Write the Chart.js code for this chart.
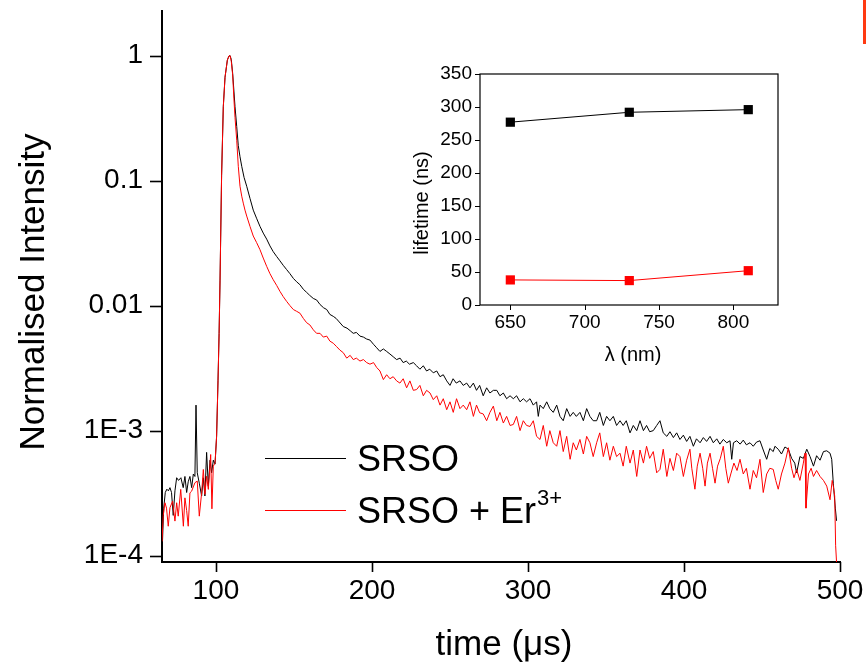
<!DOCTYPE html>
<html><head><meta charset="utf-8">
<script src="https://cdn.jsdelivr.net/npm/chart.js@4.4.1/dist/chart.umd.min.js"></script>
<style>
html,body{margin:0;padding:0;background:#fff;}
#wrap{position:relative;width:866px;height:665px;overflow:hidden;background:#fff;}
#main{position:absolute;left:0;top:0;}
#inset{position:absolute;left:390px;top:60px;}
</style></head><body>
<div id="wrap"><canvas id="main" width="866" height="665"></canvas><canvas id="inset" width="400" height="320"></canvas></div>
<script>
// ---------- data ----------
// [time in µs, normalised intensity]
const srsoDecay = [
[65.5,1.1e-4],[66.5,2.4e-4],[67.5,3.2e-4],[68.5,3.4e-4],[69.5,3.3e-4],[70.5,3.5e-4],[71.5,3.2e-4],[72.6,2.1e-4],[73.7,3.3e-4],[74.8,4.2e-4],
[76,4.0e-4],[77.5,4.2e-4],[79,3.5e-4],[80.1,4.3e-4],[81.2,3.2e-4],[82.2,3.9e-4],[83.3,4.3e-4],[84.4,3.5e-4],[85.5,4.5e-4],[86.5,4.3e-4],
[87.2,1.6e-3],[88,4.6e-4],[89.3,3.8e-4],[90.8,3.0e-4],[91.9,4.2e-4],[92.9,3.0e-4],[94,6.7e-4],[95.1,3.6e-4],[96.2,5.8e-4],[97.2,4.6e-4],
[98.3,5.8e-4],[99.4,5.4e-4],[100.4,9e-4],[101.3,2.5e-3],[102,6e-3],[102.6,0.016],[103.6,0.11],[104.7,0.39],[105.8,0.67],[107.3,0.92],
[108.3,0.99],[109,1.0],[109.8,0.93],[110.7,0.72],[111.5,0.52],[112.2,0.39],[113.3,0.27],[114.3,0.19],[115.4,0.155],[116.5,0.13],
[118,0.106],[119.7,0.09],[121.8,0.072],[123.9,0.058],[126,0.05],[128.2,0.043],[130.3,0.038],[132.5,0.034],[134.6,0.030],[136.7,0.027],
[138.9,0.0247],[141,0.0228],[143.1,0.021],[145.3,0.0194],[147.4,0.018],[149.6,0.0165],[151.7,0.0155],[153.8,0.0147],[156,0.0135],[158,0.0128],
[160,0.0121],[162.4,0.0114],[164.5,0.0111],[166.7,0.0102],[169,0.0096],[171,0.0093],[173,0.0085],[175.2,0.0082],[177,0.0079],[179,0.0074],
[181.6,0.0068],[184,0.0066],[186,0.0063],[188,0.0060],[190,0.0061],[192.3,0.0057],[194.5,0.0056],[196.6,0.0054],[198.7,0.0053],[201,0.0049],
[203,0.0046],[205.1,0.0043],[207.3,0.0045],[209.4,0.0043],[211.5,0.0041],[213.6,0.0039],[215.8,0.0037],[218,0.0038],[220,0.0035],[222,0.0036],
[224,0.0034],[226.5,0.0035],[228.6,0.0033],[230.7,0.0031],[232.9,0.0033],[235,0.0030],[237,0.0031],[239.3,0.0029],[241.5,0.0030],[243.6,0.0027],
[245.7,0.0028],[247.9,0.0025],[250,0.0023],[252,0.0026],[254,0.0024],[256.4,0.0025],[258.5,0.0023],[260.7,0.0024],[262.8,0.0022],[265,0.0024],
[267,0.0021],[269,0.0023],[271.3,0.0019],[273.5,0.0022],[275.6,0.0020],[277.8,0.0021],[280,0.0021],[282,0.0019],[284.2,0.0020],[286.3,0.0018],
[288.5,0.0019],[290.6,0.0018],[292.7,0.0019],[294.9,0.0017],[297,0.0018],[299.1,0.0017],[301.3,0.0018],[303.4,0.0016],[305.5,0.0017],[306.6,0.0013],
[307.7,0.0016],[309.8,0.0015],[312,0.0017],[314,0.0015],[316.2,0.0014],[318.4,0.0016],[320.5,0.0013],[322.6,0.0012],[324.8,0.0015],[327,0.0013],
[329,0.0014],[331,0.0013],[333.3,0.0014],[335.5,0.0012],[337.6,0.0015],[339.7,0.0013],[341.8,0.0012],[344,0.0012],[346,0.0014],[348.3,0.0011],
[350.4,0.0013],[352.5,0.0012],[354.7,0.0013],[356.8,0.0011],[359,0.0012],[361,0.0011],[363,0.0012],[365.4,0.00096],[367.5,0.0011],[369.7,0.0010],
[371.8,0.0012],[374,0.0010],[376,0.0011],[378,0.00098],[380.3,0.0010],[382.5,0.0011],[384.6,0.0012],[386.7,0.00096],[389,0.00090],[391,0.00098],
[393.2,0.00088],[395.3,0.00096],[397.4,0.00085],[399.6,0.00092],[401.7,0.00082],[403.8,0.00090],[406,0.00075],[408,0.00086],[410.3,0.00080],[412.4,0.00088],
[414.5,0.00082],[416.7,0.00090],[418.8,0.00080],[421,0.00086],[423,0.00078],[425.2,0.00085],[427.4,0.00080],[429.5,0.00083],[430.6,0.00059],[431.7,0.00080],
[433.8,0.00083],[436,0.00078],[438,0.00084],[440,0.00077],[442.3,0.00080],[444.4,0.00075],[446.5,0.00081],[448.7,0.00083],[450.8,0.00070],[453,0.00059],
[455,0.00072],[457.2,0.00068],[458.3,0.00075],[460.4,0.00071],[462.5,0.00065],[464.7,0.00074],[466.9,0.00071],[469,0.00060],[471,0.00055],[472.2,0.00046],
[474.3,0.00062],[476.5,0.00060],[478.7,0.00071],[480.8,0.00062],[483,0.00052],[485,0.00063],[487.2,0.00058],[489.4,0.00068],[491.5,0.00069],[493.6,0.00066],
[494.7,0.00059],[495.7,0.00038],[497,0.00024],[497.8,0.00019]
];
const srsoErDecay = [
[65.4,1.3e-4],[66.2,2.1e-4],[67.3,2.65e-4],[68.3,2.4e-4],[69.4,1.72e-4],[70.5,2.42e-4],[72.2,2.73e-4],[73.7,1.89e-4],[74.8,2.65e-4],[75.8,2.07e-4],
[77.4,3.39e-4],[79.1,1.72e-4],[80.1,2.9e-4],[81.2,2.3e-4],[82.2,1.72e-4],[83.3,3.18e-4],[84.4,3.28e-4],[86.5,3.83e-4],[88,3.95e-4],[89.3,2.07e-4],
[90.8,3.18e-4],[91.9,4.89e-4],[92.9,3.09e-4],[94,4.32e-4],[95.1,3.39e-4],[96.6,6.44e-4],[97.4,2.37e-4],[98.3,5.2e-4],[99.4,5.5e-4],[100.4,9e-4],
[101.3,2.5e-3],[102,6e-3],[102.6,0.016],[103.6,0.11],[104.7,0.39],[105.8,0.67],[107.3,0.92],[108.3,0.99],[109,1.0],[109.8,0.9],
[110.7,0.7],[111.5,0.45],[112.2,0.32],[113.3,0.21],[114.3,0.13],[115.4,0.09],[116.5,0.075],[117.5,0.066],[118.6,0.058],[119.7,0.052],
[121.8,0.043],[123.9,0.036],[126,0.032],[128.2,0.028],[130.3,0.024],[132.5,0.0206],[134.6,0.018],[136.7,0.0161],[138.9,0.0145],[141,0.013],
[143.1,0.0118],[145.3,0.0108],[147.4,0.0100],[149.6,0.0093],[151.7,0.0090],[153.8,0.0087],[156,0.0079],[158.1,0.0073],[160.2,0.0070],[162.4,0.0064],
[164.5,0.0060],[166.7,0.0060],[168.8,0.0056],[171,0.0057],[173,0.0052],[175.2,0.0050],[177.3,0.0047],[179.5,0.0044],[181.6,0.0042],[183.8,0.0038],
[186,0.0040],[188,0.0037],[190,0.0038],[192.3,0.0036],[194.5,0.0037],[196.6,0.0035],[198.7,0.0034],[201,0.0035],[203,0.0032],[205.1,0.0030],
[207.3,0.00256],[209.4,0.0028],[211.5,0.0026],[213.6,0.0027],[215.8,0.0025],[217.9,0.0024],[220,0.0026],[222.2,0.0022],[224.3,0.0025],[226.5,0.0021],
[228.6,0.00213],[230.7,0.0023],[232.9,0.0019],[235,0.0021],[237.2,0.0020],[239.3,0.00177],[241.5,0.0019],[243.6,0.0016],[245.7,0.0018],[247.9,0.00147],
[250,0.0017],[252.1,0.0014],[254.2,0.0018],[256.4,0.0015],[258.5,0.0016],[260.7,0.00147],[262.8,0.0017],[265,0.0013],[267,0.0016],[269,0.00139],
[271.3,0.00136],[273.5,0.0012],[275.6,0.0014],[277.8,0.00157],[280,0.0012],[282,0.0014],[284.2,0.00115],[286.3,0.0013],[288.5,0.0011],[290.6,0.00112],
[292.7,0.0013],[294.9,0.0010],[297,0.0012],[299.1,0.0011],[301.3,0.00108],[303.4,0.0012],[305.5,0.00090],[307.7,0.00085],[309.8,0.0011],[312,0.00075],
[314,0.0010],[316.2,0.0008],[318.4,0.00075],[320.5,0.0010],[322.6,0.00068],[324.8,0.0009],[327,0.00059],[329,0.0008],[331,0.00070],[333.3,0.00085],
[335.5,0.00065],[337.6,0.0009],[339.7,0.0008],[341.8,0.00062],[344,0.0008],[346,0.00096],[348.3,0.00062],[350.4,0.0008],[352.5,0.00058],[354.7,0.00075],
[356.8,0.00062],[359,0.00066],[361,0.00052],[363,0.00075],[365.4,0.00055],[367.5,0.0007],[369.7,0.00043],[371.8,0.0007],[374,0.00055],[376,0.00075],
[378,0.0006],[380.3,0.00068],[382.5,0.00046],[384.6,0.00049],[386.7,0.00071],[389,0.00043],[391,0.00060],[393.2,0.00048],[395.3,0.00066],[397.4,0.00062],
[399.6,0.00043],[401.7,0.00058],[403.8,0.00071],[405,0.0005],[407,0.00034],[408.5,0.00052],[410.3,0.00066],[412,0.00050],[413.5,0.00036],[415,0.00055],
[416.7,0.00066],[418.3,0.0005],[419.9,0.00038],[421.5,0.00052],[423.3,0.00060],[425.2,0.00075],[426.8,0.00050],[428.4,0.00038],[430,0.00045],[432,0.00055],
[434,0.00048],[435.9,0.00059],[438,0.00045],[440,0.0005],[442.3,0.00034],[444.4,0.00048],[446.5,0.00042],[448.7,0.00059],[450.8,0.00032],[453,0.00045],
[455,0.0005],[457.2,0.00049],[458.8,0.00040],[460.4,0.00034],[462.5,0.00045],[464.7,0.00055],[466.9,0.00073],[469,0.00050],[470.5,0.00042],[472.2,0.00049],
[474.3,0.00040],[476.5,0.00055],[477.6,0.00066],[478.2,0.00024],[479.8,0.00045],[481.5,0.00050],[483,0.00043],[485,0.00048],[487.2,0.00043],[489.4,0.00040],
[491.5,0.00036],[493.6,0.00028],[495,0.00040],[495.7,0.00036],[496.6,0.00030],[497.2,0.00012],[498,0.00008]
];
const seriesNames = ['SRSO', 'SRSO + Er'];
const seriesSuperscript = '3+';
const yDecadeValues = [1, 0.1, 0.01, 1e-3, 1e-4];
const yDecadeLabels = ['1', '0.1', '0.01', '1E-3', '1E-4'];
const xLabelValues = [100, 200, 300, 400, 500];
const mainYTitle = 'Normalised Intensity';
const mainXTitle = 'time (\u03bcs)';

// inset
const insetWavelengths = [650, 730, 810];
const lifetimeSRSO = [277, 292, 296];
const lifetimeSRSOEr = [38, 37, 52];
const insetXTickValues = [650, 675, 700, 725, 750, 775, 800, 825];
const insetXLabels = [650, 700, 750, 800];
const insetYTickValues = [0, 25, 50, 75, 100, 125, 150, 175, 200, 225, 250, 275, 300, 325, 350];
const insetYLabels = [0, 50, 100, 150, 200, 250, 300, 350];
const insetYTitle = 'lifetime (ns)';
const insetXTitle = '\u03bb (nm)';

// ---------- rendering ----------
const FONT = "'Liberation Sans', Arial, Helvetica, sans-serif";
const toXY = arr => arr.map(p => ({x: p[0], y: p[1]}));

function yLabel(v) {
  for (let i = 0; i < yDecadeValues.length; i++) {
    if (Math.abs(Math.log10(v) - Math.log10(yDecadeValues[i])) < 1e-6) return yDecadeLabels[i];
  }
  return null;
}
function isDecade(v) { return Math.abs(Math.log10(v) - Math.round(Math.log10(v))) < 1e-6; }

const mainDeco = {
  id: 'mainDeco',
  afterDraw(chart) {
    const ctx = chart.ctx, xs = chart.scales.x, ys = chart.scales.y, ca = chart.chartArea;
    ctx.save();
    ctx.strokeStyle = '#000'; ctx.lineWidth = 1.6;
    ys.ticks.forEach(t => {
      if (t.value <= ys.min * 1.0001) return;
      const y = Math.round(ys.getPixelForValue(t.value)) + 0.5;
      const len = isDecade(t.value) ? 12 : 5;
      ctx.beginPath(); ctx.moveTo(ca.left - len, y); ctx.lineTo(ca.left, y); ctx.stroke();
    });
    xs.ticks.forEach(t => {
      const x = Math.round(xs.getPixelForValue(t.value)) + 0.5;
      const len = xLabelValues.includes(t.value) ? 10 : 6;
      ctx.beginPath(); ctx.moveTo(x, ca.bottom); ctx.lineTo(x, ca.bottom + len); ctx.stroke();
    });
    ctx.fillStyle = '#000';
    ctx.font = '35px ' + FONT;
    ctx.textAlign = 'center'; ctx.textBaseline = 'alphabetic';
    ctx.fillText(mainXTitle, 504, 655);
    ctx.save();
    ctx.translate(44, 292); ctx.rotate(-Math.PI / 2);
    ctx.fillText(mainYTitle, 0, 0);
    ctx.restore();
    const ds = chart.data.datasets;
    const rows = [458, 510];
    ds.forEach((d, i) => {
      const y = rows[i] + 0.5;
      ctx.strokeStyle = d.borderColor; ctx.lineWidth = 1;
      ctx.beginPath(); ctx.moveTo(265, y); ctx.lineTo(346, y); ctx.stroke();
      ctx.fillStyle = '#000'; ctx.font = '36px ' + FONT; ctx.textAlign = 'left';
      ctx.fillText(d.label, 357, rows[i] + 13);
      if (d.sup) {
        const w = ctx.measureText(d.label).width;
        ctx.font = '22px ' + FONT;
        ctx.fillText(d.sup, 357 + w + 1, rows[i] - 5);
      }
    });
    ctx.fillStyle = '#ff3a12';
    ctx.fillRect(863, 0, 3, 44);
    ctx.restore();
  }
};

new Chart(document.getElementById('main'), {
  type: 'line',
  data: {
    datasets: [
      {label: seriesNames[0], data: toXY(srsoDecay), borderColor: '#000000', borderWidth: 1, pointRadius: 0, order: 1},
      {label: seriesNames[1], sup: seriesSuperscript, data: toXY(srsoErDecay), borderColor: '#ff0000', borderWidth: 1, pointRadius: 0, order: 0}
    ]
  },
  options: {
    responsive: false, animation: false, events: [],
    layout: {padding: {left: 0, top: 11, right: 26, bottom: 0}},
    plugins: {legend: {display: false}, tooltip: {enabled: false}},
    scales: {
      x: {
        type: 'linear', min: 65.4, max: 500,
        ticks: {stepSize: 50, includeBounds: false, autoSkip: false, maxRotation: 0,
          callback: v => xLabelValues.includes(v) ? String(v) : null,
          font: {size: 28, family: FONT}, color: '#000', padding: 12},
        grid: {display: false, drawTicks: false},
        border: {display: true, color: '#000', width: 2},
        afterFit: s => { s.height = 103; s.paddingLeft = 0; s.paddingRight = 0; }
      },
      y: {
        type: 'logarithmic', min: 8.9e-5, max: 2.27,
        ticks: {autoSkip: false, callback: v => yLabel(v),
          font: {size: 28, family: FONT}, color: '#000', padding: 19},
        grid: {display: false, drawTicks: false},
        border: {display: true, color: '#000', width: 2},
        afterFit: s => { s.width = 162; s.paddingTop = 0; s.paddingBottom = 0; }
      }
    }
  },
  plugins: [mainDeco]
});

const insetDeco = {
  id: 'insetDeco',
  afterDraw(chart) {
    const ctx = chart.ctx, xs = chart.scales.x, ys = chart.scales.y, ca = chart.chartArea;
    ctx.save();
    ctx.strokeStyle = '#000'; ctx.lineWidth = 1.2;
    ctx.strokeRect(ca.left, ca.top, ca.right - ca.left, ca.bottom - ca.top);
    ctx.lineWidth = 1;
    ys.ticks.forEach(t => {
      const y = Math.round(ys.getPixelForValue(t.value)) + 0.5;
      const len = insetYLabels.includes(t.value) ? 5 : 3;
      ctx.beginPath(); ctx.moveTo(ca.left - len, y); ctx.lineTo(ca.left, y); ctx.stroke();
    });
    xs.ticks.forEach(t => {
      const x = Math.round(xs.getPixelForValue(t.value)) + 0.5;
      const len = insetXLabels.includes(t.value) ? 5 : 3;
      ctx.beginPath(); ctx.moveTo(x, ca.bottom); ctx.lineTo(x, ca.bottom + len); ctx.stroke();
    });
    ctx.fillStyle = '#000';
    ctx.font = '20px ' + FONT;
    ctx.textAlign = 'center'; ctx.textBaseline = 'middle';
    ctx.fillText(insetXTitle, 243, 295);
    ctx.save();
    ctx.translate(32, 143); ctx.rotate(-Math.PI / 2);
    ctx.fillText(insetYTitle, 0, 0);
    ctx.restore();
    ctx.restore();
  }
};

const insetPts = vals => insetWavelengths.map((w, i) => ({x: w, y: vals[i]}));
new Chart(document.getElementById('inset'), {
  type: 'line',
  data: {
    datasets: [
      {data: insetPts(lifetimeSRSO), borderColor: '#000', backgroundColor: '#000', borderWidth: 1,
       pointStyle: 'rect', pointRadius: 6.5, pointBorderWidth: 0, pointBackgroundColor: '#000'},
      {data: insetPts(lifetimeSRSOEr), borderColor: '#ff0000', backgroundColor: '#ff0000', borderWidth: 1,
       pointStyle: 'rect', pointRadius: 6.5, pointBorderWidth: 0, pointBackgroundColor: '#ff0000'}
    ]
  },
  options: {
    responsive: false, animation: false, events: [],
    layout: {padding: {left: 0, top: 14, right: 12, bottom: 0}},
    plugins: {legend: {display: false}, tooltip: {enabled: false}},
    scales: {
      x: {
        type: 'linear', min: 629.6, max: 830,
        afterBuildTicks: s => { s.ticks = insetXTickValues.map(v => ({value: v})); },
        ticks: {autoSkip: false, maxRotation: 0,
          callback: v => insetXLabels.includes(v) ? String(v) : null,
          font: {size: 19, family: FONT}, color: '#000', padding: 6},
        grid: {display: false, drawTicks: false},
        border: {display: false},
        afterFit: s => { s.height = 75; s.paddingLeft = 0; s.paddingRight = 0; }
      },
      y: {
        type: 'linear', min: 0, max: 350,
        afterBuildTicks: s => { s.ticks = insetYTickValues.map(v => ({value: v})); },
        ticks: {autoSkip: false,
          callback: v => insetYLabels.includes(v) ? String(v) : null,
          font: {size: 19, family: FONT}, color: '#000', padding: 8},
        grid: {display: false, drawTicks: false},
        border: {display: false},
        afterFit: s => { s.width = 90; s.paddingTop = 0; s.paddingBottom = 0; }
      }
    }
  },
  plugins: [insetDeco]
});
</script>
</body></html>
